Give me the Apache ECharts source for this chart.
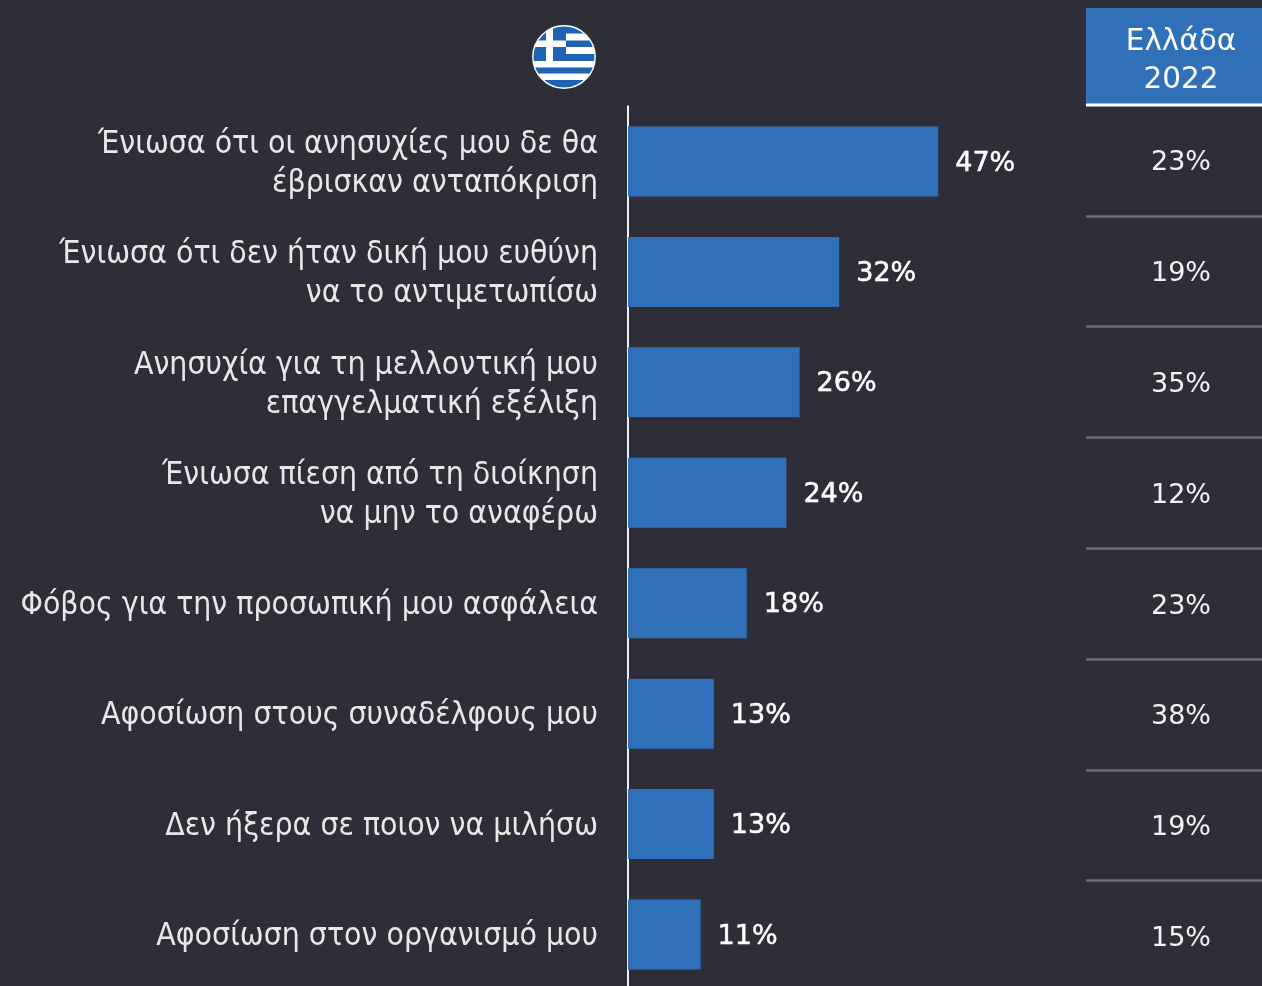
<!DOCTYPE html>
<html><head><meta charset="utf-8">
<style>html,body{margin:0;padding:0;background:#2e2e38}#c{width:1262px;height:986px}</style>
<script src="https://cdn.jsdelivr.net/npm/echarts@6/dist/echarts.min.js"></script></head>
<body><div id="c"></div>
<script>
const categories = [
  "Ένιωσα ότι οι ανησυχίες μου δε θα\nέβρισκαν ανταπόκριση",
  "Ένιωσα ότι δεν ήταν δική μου ευθύνη\nνα το αντιμετωπίσω",
  "Ανησυχία για τη μελλοντική μου\nεπαγγελματική εξέλιξη",
  "Ένιωσα πίεση από τη διοίκηση\nνα μην το αναφέρω",
  "Φόβος για την προσωπική μου ασφάλεια",
  "Αφοσίωση στους συναδέλφους μου",
  "Δεν ήξερα σε ποιον να μιλήσω",
  "Αφοσίωση στον οργανισμό μου"
];
const values = [47, 32, 26, 24, 18, 13, 13, 11];
const values2022 = [23, 19, 35, 12, 23, 38, 19, 15];
const headerLines = "Ελλάδα\n2022";
const flagSvg = `<svg xmlns="http://www.w3.org/2000/svg" width="64" height="64" viewBox="0 0 64 64"><defs><clipPath id="a"><circle cx="32" cy="32" r="31"/></clipPath></defs><g clip-path="url(#a)"><rect width="64" height="64" fill="#fff"/><g fill="#1f63b2"><rect x="0" y="0" width="64" height="8.5"/><rect x="34" y="15.5" width="30" height="6.5"/><rect x="0" y="29" width="64" height="7"/><rect x="0" y="42.5" width="64" height="6"/><rect x="0" y="55" width="64" height="9"/><rect x="0" y="0" width="34" height="36"/></g><rect x="0" y="15.5" width="34" height="6.5" fill="#fff"/><rect x="14" y="0" width="7" height="36" fill="#fff"/></g><circle cx="32" cy="32" r="31.2" fill="none" stroke="#fff" stroke-width="1.4"/></svg>`;
const FONT = "DejaVu Sans";
const LABEL_FONT = "DejaVu Sans Condensed";
const chart = echarts.init(document.getElementById('c'), null, {renderer:'canvas'});
chart.setOption({
  backgroundColor:'#2e2e38',
  animation:false,
  grid:[
    {left:628, top:106.3, width:396, height:883.4, outerBoundsMode:'none'},
    {left:1086, top:105, width:176, height:886.4, outerBoundsMode:'none'},
    {left:628, top:108.8, width:396, height:883.4, outerBoundsMode:'none'}
  ],
  xAxis:[
    {gridIndex:0, type:'value', min:0, max:60, show:false},
    {gridIndex:1, type:'value', min:0, max:1, show:false},
    {gridIndex:2, type:'value', min:0, max:60, show:false}
  ],
  yAxis:[
    {gridIndex:0, type:'category', inverse:true, data:categories,
     axisLine:{show:true, lineStyle:{color:'#f0f0f0', width:2}}, axisTick:{show:false}, axisLabel:{show:false}},
    {gridIndex:1, type:'category', inverse:true, data:categories,
     axisLine:{show:false}, axisTick:{show:false}, axisLabel:{show:false},
     splitLine:{show:true, showMinLine:false, showMaxLine:false, lineStyle:{color:'#6d6d78', width:2.5}}},
    {gridIndex:2, type:'category', inverse:true, data:categories,
     axisLine:{show:false}, axisTick:{show:false},
     axisLabel:{color:'#e8e8e8', fontFamily:LABEL_FONT, fontSize:31.7, lineHeight:39, align:'right', margin:30}}
  ],
  series:[
    {type:'bar', xAxisIndex:0, yAxisIndex:0, data:values, barWidth:70,
     itemStyle:{color:'#2f70b9'},
     label:{show:true, position:'right', distance:17, offset:[0,2], color:'#fff', fontFamily:FONT, fontSize:27, textBorderColor:'#fff', textBorderWidth:0.5, formatter:p=>p.value+'%'}},
    {type:'bar', xAxisIndex:1, yAxisIndex:1, data:values2022.map(v=>({value:1,raw:v})), barWidth:70,
     itemStyle:{color:'rgba(0,0,0,0)'},
     label:{show:true, position:'inside', offset:[7,3], color:'#f2f2f2', fontFamily:FONT, fontSize:27, formatter:p=>p.data.raw+'%'}}
  ],
  graphic:[
    {type:'rect', z:100, shape:{x:1086,y:8,width:176,height:96}, style:{fill:'#2f70b9'}},
    {type:'rect', z:100, shape:{x:1086,y:103.5,width:176,height:3}, style:{fill:'#ffffff'}},
    {type:'text', z:101, x:1181, y:61.5, style:{text:headerLines, fill:'#fff', font:'29.5px "DejaVu Sans"', lineHeight:38, align:'center', verticalAlign:'middle'}},
    {type:'image', z:100, x:532, y:25, style:{image:'data:image/svg+xml;charset=utf-8,'+encodeURIComponent(flagSvg), width:64, height:64}}
  ]
});
</script></body></html>
